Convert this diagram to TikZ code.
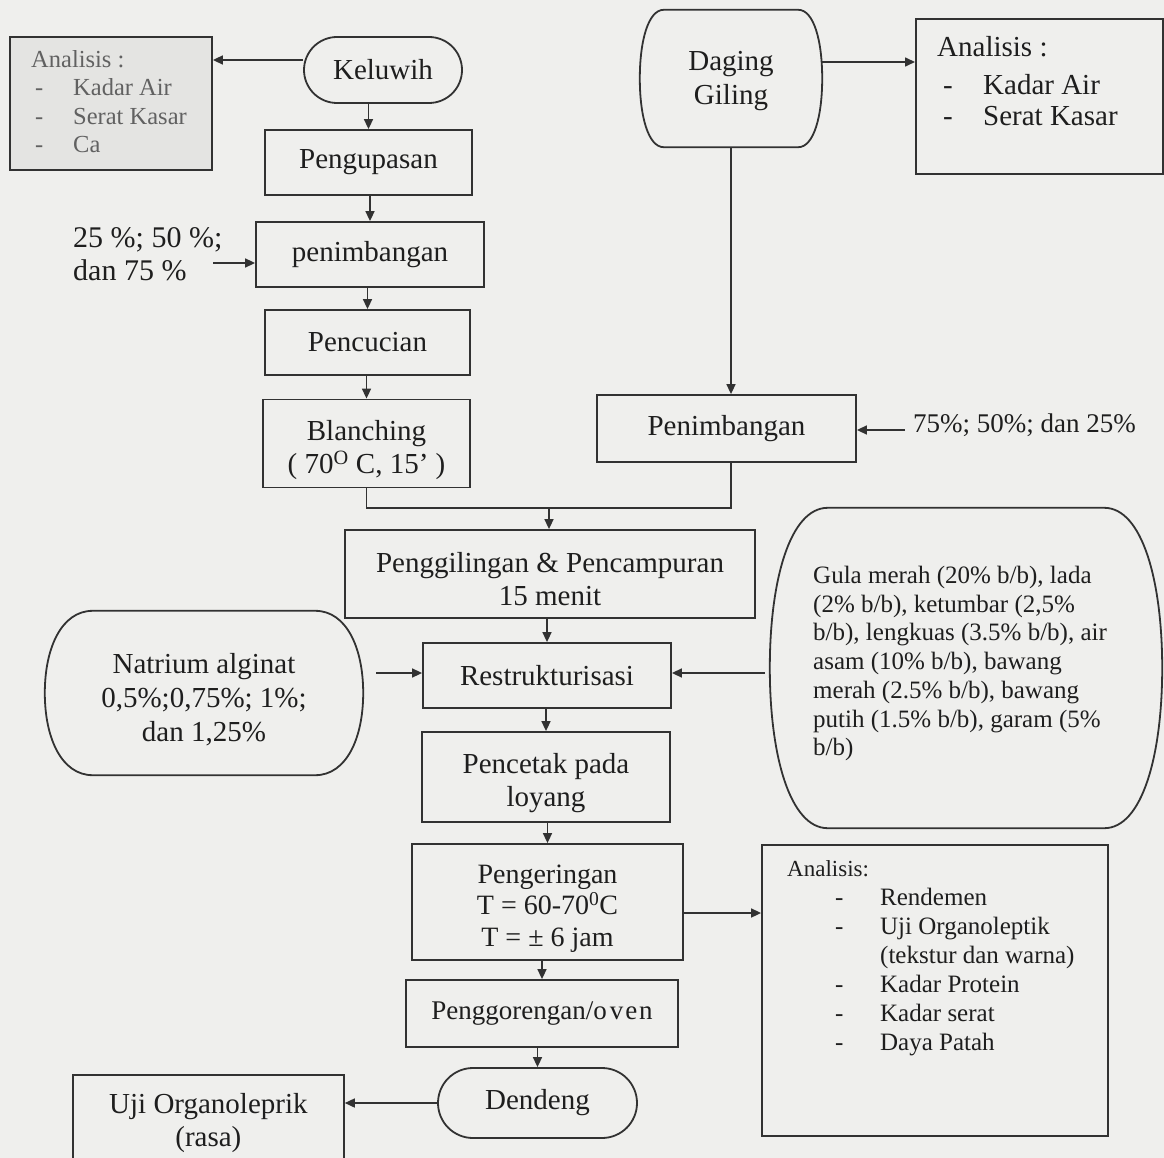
\documentclass[tikz,border=0pt]{standalone}
\usepackage{fontspec}
\setmainfont{Liberation Serif}
\usetikzlibrary{arrows.meta,calc}
\definecolor{bgc}{RGB}{239,239,237}
\definecolor{lc}{RGB}{50,50,50}
\definecolor{tc}{RGB}{30,30,30}
\definecolor{anfill}{RGB}{228,228,226}
\newcommand\dnstrut[1]{\rule{0pt}{#1pt}}
\newcommand\bulgeshape[2]{%
 \draw[shp] ($(#1.north west)+(#2,0)$) -- ($(#1.north east)+(-#2,0)$)
   .. controls ($(#1.north east)+(-0.35*#2,0)$) and ($(#1.north east)!0.45!(#1.east)$) .. (#1.east)
   .. controls ($(#1.south east)!0.45!(#1.east)$) and ($(#1.south east)+(-0.35*#2,0)$) .. ($(#1.south east)+(-#2,0)$)
   -- ($(#1.south west)+(#2,0)$)
   .. controls ($(#1.south west)+(0.35*#2,0)$) and ($(#1.south west)!0.45!(#1.west)$) .. (#1.west)
   .. controls ($(#1.north west)!0.45!(#1.west)$) and ($(#1.north west)+(0.35*#2,0)$) .. cycle;}
\tikzset{
  box/.style={draw=lc, line width=1.8pt, align=center, inner sep=0pt, text=tc,
    font=\fontsize{29}{33}\selectfont},
  shapetext/.style={draw=none, align=center, inner sep=0pt, text=tc,
    font=\fontsize{29}{34}\selectfont},
  plain/.style={align=left, inner sep=0pt, text=tc},
  arr/.style={draw=lc, line width=1.6pt, -{Triangle[length=10pt,width=9pt]}},
  ln/.style={draw=lc, line width=1.6pt},
  shp/.style={draw=lc, line width=1.8pt}
}
\begin{document}
\begin{tikzpicture}[x=1pt,y=-1pt]
\useasboundingbox (0,0) rectangle (1164,1158);
\fill[bgc] (0,0) rectangle (1164,1158);

% left column
\node[box, minimum width=158pt, minimum height=66pt, rounded corners=33pt] (kel) at (383,70) {Keluwih};
\node[box, fill=anfill, minimum width=202pt, minimum height=133pt] (anL) at (111,103.5) {};
\node[plain, anchor=north west, text=black!62, font=\fontsize{24.5}{28.5}\selectfont] (anLt) at (31,50)
  {Analisis :\\\makebox[42pt][l]{\kern4pt-}Kadar Air\\\makebox[42pt][l]{\kern4pt-}Serat Kasar\\\makebox[42pt][l]{\kern4pt-}Ca};
\node[box, minimum width=207pt, minimum height=65pt] (peng) at (368.5,162.5) {Pengupasan};
\node[box, minimum width=228pt, minimum height=65pt] (pen1) at (370,254.5) {penimbangan};
\node[plain, anchor=west, font=\fontsize{30}{33}\selectfont] (pct1) at (73,254) {25 \%; 50 \%;\\dan 75 \%};
\coordinate (c1) at (213,263);
\node[box, minimum width=205pt, minimum height=65pt] (cuci) at (367.5,342.5) {Pencucian};
\node[box, minimum width=207pt, minimum height=88pt] (blan) at (366.5,443.5) {\dnstrut{34}Blanching\\( 70\textsuperscript{O} C, 15’ )};

% right top
\node[shapetext, minimum width=182pt, minimum height=137pt] (dag) at (731,78.5) {\dnstrut{25}Daging\\Giling};
\bulgeshape{dag}{24}
\node[box, anchor=north west, minimum width=247pt, minimum height=155pt] (anR) at (915,18) {};
\node[plain, anchor=north west, font=\fontsize{29}{31}\selectfont] (anRt) at (937,36)
  {Analisis :\\[7pt]\makebox[46pt][l]{\kern6pt-}Kadar Air\\\makebox[46pt][l]{\kern6pt-}Serat Kasar};
\node[box, minimum width=259pt, minimum height=67pt] (pen2) at (726.5,428.5) {Penimbangan};
\node[plain, anchor=west, font=\fontsize{27}{31}\selectfont] (pct2) at (913,425) {75\%; 50\%; dan 25\%};
\coordinate (c2) at (905,430);

% middle
\coordinate (jn) at (549,508);
\node[box, minimum width=410pt, minimum height=88pt] (gil) at (550,574) {\dnstrut{31}Penggilingan \& Pencampuran\\15 menit};
\node[shapetext, minimum width=318pt, minimum height=164pt] (nat) at (204,693) {\dnstrut{33}Natrium alginat\\0,5\%;0,75\%; 1\%;\\dan 1,25\%};
\bulgeshape{nat}{48}
\coordinate (c3) at (376,673);
\node[box, minimum width=248pt, minimum height=65pt] (res) at (547,675.5) {Restrukturisasi};
\node[draw=none, minimum width=392pt, minimum height=320pt, inner sep=0pt] (gula) at (966,668) {};
\bulgeshape{gula}{58}
\node[plain, anchor=north west, font=\fontsize{25}{28.7}\selectfont] (gulat) at (813,566)
  {Gula merah (20\% b/b), lada\\(2\% b/b), ketumbar (2,5\%\\b/b), lengkuas (3.5\% b/b), air\\asam (10\% b/b), bawang\\merah (2.5\% b/b), bawang\\putih (1.5\% b/b), garam (5\%\\b/b)};
\coordinate (c4) at (765,673);
\node[box, minimum width=248pt, minimum height=90pt] (cetak) at (546,777) {\dnstrut{32}Pencetak pada\\loyang};
\node[box, minimum width=271pt, minimum height=116pt, font=\fontsize{28}{31.5}\selectfont] (kering) at (547.5,902) {\dnstrut{31}Pengeringan\\T = 60-70\textsuperscript{0}C\\T = ± 6 jam};
\node[box, minimum width=346pt, minimum height=291pt] (anB) at (935,990.5) {};
\node[plain, anchor=north west, font=\fontsize{25}{29}\selectfont] (anBt) at (787,860)
  {{\fontsize{23}{29}\selectfont Analisis:}\\\makebox[93pt][l]{\kern48pt-}Rendemen\\\makebox[93pt][l]{\kern48pt-}Uji Organoleptik\\\hspace*{93pt}(tekstur dan warna)\\\makebox[93pt][l]{\kern48pt-}Kadar Protein\\\makebox[93pt][l]{\kern48pt-}Kadar serat\\\makebox[93pt][l]{\kern48pt-}Daya Patah};
\node[box, minimum width=272pt, minimum height=67pt, font=\fontsize{27}{31}\selectfont] (goreng) at (542,1013.5) {Penggorengan/o\kern3pt v\kern2pt e\kern2pt n};
\node[box, minimum width=199pt, minimum height=70pt, rounded corners=35pt] (den) at (537.5,1103) {Dendeng};
\node[box, anchor=north west, minimum width=271pt, minimum height=88pt] (uji) at (72,1074) {\dnstrut{28}Uji Organoleprik\\(rasa)};

% connectors
\draw[arr] ([yshift=10pt]kel.west) -- ([yshift=10pt]kel.west -| anL.east);
\draw[arr] (kel.south -| peng.north) -- (peng.north);
\draw[arr] (peng.south -| pen1.north) -- (pen1.north);
\draw[arr] (c1) -- (c1 -| pen1.west);
\draw[arr] (pen1.south -| cuci.north) -- (cuci.north);
\draw[arr] (cuci.south -| blan.north) -- (blan.north);
\draw[arr] ([yshift=16.5pt]dag.east) -- ([yshift=16.5pt]dag.east -| anR.west);
\draw[arr] (dag.south) -- (dag.south |- pen2.north);
\draw[arr] (c2) -- (c2 -| pen2.east);
\draw[ln] (blan.south) -- (blan.south |- jn) -- (dag.south |- jn) -- (dag.south |- pen2.south);
\draw[arr] (jn) -- (jn |- gil.north);
\draw[arr] (gil.south -| res.north) -- (res.north);
\draw[arr] (c3) -- (c3 -| res.west);
\draw[arr] (c4) -- (c4 -| res.east);
\draw[arr] (res.south -| cetak.north) -- (cetak.north);
\draw[arr] (cetak.south -| kering.north) -- (kering.north);
\draw[arr] ([yshift=-11pt]kering.east) -- ([yshift=-11pt]kering.east -| anB.west);
\draw[arr] (kering.south -| goreng.north) -- (goreng.north);
\draw[arr] (goreng.south -| den.north) -- (den.north);
\draw[arr] (den.west) -- (den.west -| uji.east);
\end{tikzpicture}
\end{document}
